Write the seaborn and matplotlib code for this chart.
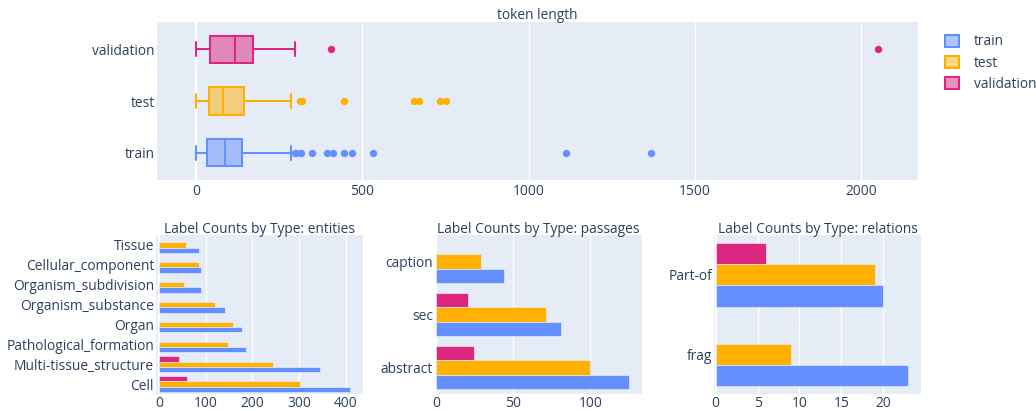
import numpy as np
import pandas as pd
import matplotlib
matplotlib.use("Agg")
import matplotlib.pyplot as plt
import seaborn as sns
from matplotlib.colors import to_rgba
from matplotlib.patches import Patch

# Splits and colours
splits = ["train", "test", "validation"]
split_colors = {"train": "#648FFF", "test": "#FFB000", "validation": "#DC267F"}

# Token lengths per document (estimated from the box plot)
train_tokens = [0, 3, 7, 10, 14, 16, 19, 21, 24, 26, 27, 29, 31, 33,
                34,
                37, 42, 45, 51, 55, 57, 63, 66, 69, 75, 77, 81, 84,
                86,
                89, 95, 97, 103, 105, 111, 113, 119, 121, 127, 129, 134, 136,
                138,
                166, 212, 285, 297, 300, 316, 348, 395, 411, 446, 468, 533, 1112, 1368]
test_tokens = [0, 5, 11, 15, 20, 24, 27, 31, 34, 36,
               38,
               42, 47, 53, 57, 62, 66, 71, 75, 78,
               81,
               88, 95, 101, 108, 113, 121, 127, 134, 140,
               144,
               192, 238, 285, 312, 318, 446, 657, 672, 735, 751]
validation_tokens = [0, 12, 22, 31, 38,
                     42,
                     61, 77, 96, 108,
                     119,
                     131, 140, 153, 162,
                     172,
                     211, 254, 297, 406, 2050]

# Label counts by type
entity_types = ["Cell", "Multi-tissue_structure", "Pathological_formation", "Organ",
                "Organism_substance", "Organism_subdivision", "Cellular_component", "Tissue"]
entity_train = [409, 344, 186, 177, 141, 89, 89, 86]
entity_test = [302, 244, 147, 159, 119, 53, 86, 57]
entity_validation = [59, 43, np.nan, np.nan, np.nan, np.nan, np.nan, np.nan]

passage_types = ["abstract", "sec", "caption"]
passage_train = [125, 81, 44]
passage_test = [100, 71, 29]
passage_validation = [25, 21, np.nan]

relation_types = ["frag", "Part-of"]
relation_train = [23, 20]
relation_test = [9, 19]
relation_validation = [np.nan, 6]

TEXT = "#2a3f5f"
BG = "#E5ECF6"
FS = 9.9


def counts_frame(types, train, test, validation):
    """Long table of label counts, skipping missing values."""
    rows = []
    for s, vals in zip(splits, [train, test, validation]):
        for t, v in zip(types, vals):
            if not np.isnan(v):
                rows.append({"type": t, "split": s, "count": v})
    return pd.DataFrame(rows)


def style_axes(ax):
    ax.set_facecolor(BG)
    for sp in ax.spines.values():
        sp.set_visible(False)
    ax.grid(axis="x", color="white", linewidth=1)
    ax.grid(axis="y", visible=False)
    ax.axvline(0, color="white", linewidth=1.6, zorder=0.9)
    ax.tick_params(length=0, labelsize=FS, colors=TEXT)
    ax.tick_params(axis="x", pad=1.5)
    ax.tick_params(axis="y", pad=1.5)
    ax.set_xlabel("")
    ax.set_ylabel("")


sns.set_style("darkgrid")
plt.rcParams["font.family"] = ["Open Sans", "DejaVu Sans"]

fig = plt.figure(figsize=(10.36, 4.11), dpi=100)
W, H = 1036, 411


def add_ax(x0, y0, x1, y1):
    return fig.add_axes([x0 / W, 1 - y1 / H, (x1 - x0) / W, (y1 - y0) / H])


# Top: token length box plot
ax_top = add_ax(157, 22, 918, 180)
token_df = pd.concat([
    pd.DataFrame({"split": "train", "tokens": train_tokens}),
    pd.DataFrame({"split": "test", "tokens": test_tokens}),
    pd.DataFrame({"split": "validation", "tokens": validation_tokens}),
])
box_order = ["validation", "test", "train"]
for s in splits:
    c = split_colors[s]
    sns.boxplot(data=token_df[token_df["split"] == s], x="tokens", y="split",
                order=box_order, color=c, linecolor=c, linewidth=1.45, width=0.52,
                saturation=1, whis=1.5,
                flierprops=dict(marker="o", markerfacecolor=c, markeredgecolor=c,
                                markersize=4.3),
                ax=ax_top)
    ax_top.patches[-1].set_facecolor(to_rgba(c, 0.5))
style_axes(ax_top)
ax_top.tick_params(axis="x", pad=3)
ax_top.set_xlim(-117, 2171)
ax_top.set_ylim(2.52, -0.52)
ax_top.set_xticks([0, 500, 1000, 1500, 2000])
ax_top.set_title("token length", fontsize=FS, color=TEXT, pad=2)

# Bottom: label counts
panels = [
    ("entities", (156, 363), entity_types, entity_train, entity_test, entity_validation,
     (-6.4, 437), [0, 100, 200, 300, 400]),
    ("passages", (435, 642), passage_types, passage_train, passage_test, passage_validation,
     (-0.5, 133.4), [0, 50, 100]),
    ("relations", (714, 921), relation_types, relation_train, relation_test, relation_validation,
     (-0.2, 24.5), [0, 5, 10, 15, 20]),
]
for name, (x0, x1), types, tr, te, va, xlim, xticks in panels:
    ax = add_ax(x0, 235, x1, 394)
    df = counts_frame(types, tr, te, va)
    sns.barplot(data=df, x="count", y="type", hue="split", order=types[::-1],
                hue_order=["validation", "test", "train"], palette=split_colors,
                saturation=1, width=0.8, errorbar=None, edgecolor=BG, linewidth=0.5,
                legend=False, ax=ax)
    style_axes(ax)
    ax.set_xlim(*xlim)
    ax.set_ylim(len(types) - 0.5, -0.5)
    ax.set_xticks(xticks)
    ax.set_title(f"Label Counts by Type: {name}", fontsize=FS, color=TEXT, pad=1.5)

# Legend
handles = [Patch(facecolor=to_rgba(split_colors[s], 0.5), edgecolor=split_colors[s],
                 linewidth=1.45) for s in splits]
fig.legend(handles, splits, loc="upper left", bbox_to_anchor=(933 / W, 1 - 22 / H),
           frameon=False, fontsize=FS, labelcolor=TEXT, handlelength=1.0,
           handleheight=1.0, handletextpad=1.05, labelspacing=0.45)

fig.savefig("out.png", dpi=100)
